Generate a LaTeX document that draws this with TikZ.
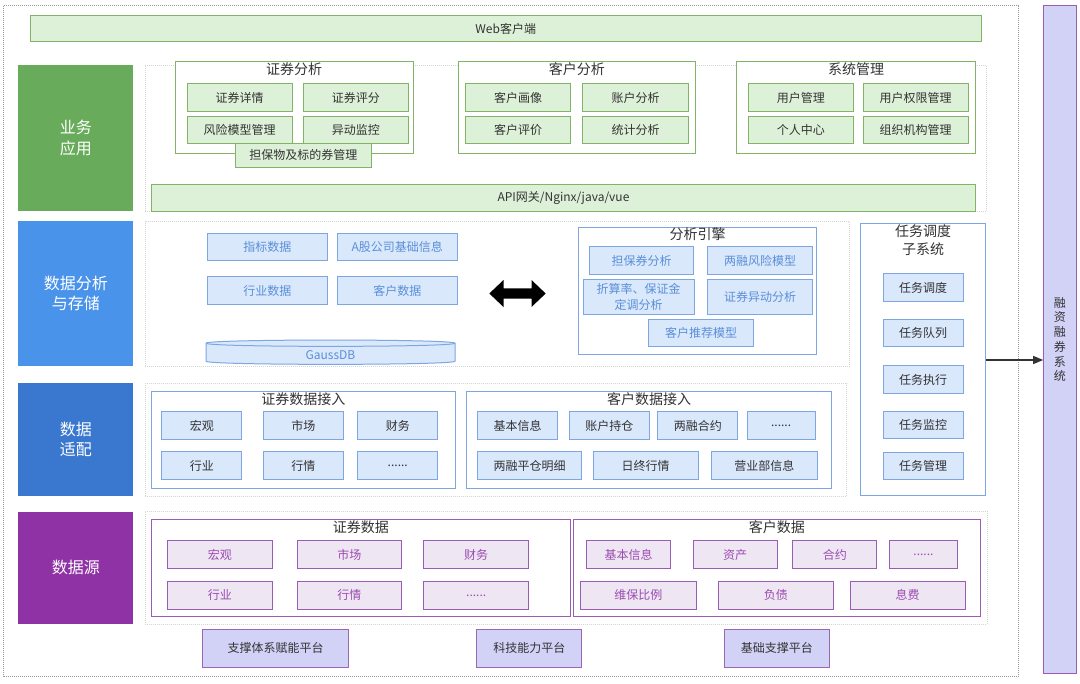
\documentclass[tikz,border=0pt]{standalone}
\usepackage{fontspec}
\setmainfont{Noto Sans CJK SC}
\usetikzlibrary{arrows.meta}
\definecolor{txt}{HTML}{333333}
\definecolor{gLayer}{HTML}{67AB5B}
\definecolor{gFill}{HTML}{DDF1D9}
\definecolor{gStroke}{HTML}{82B366}
\definecolor{bLayerA}{HTML}{4A93EA}
\definecolor{bLayerB}{HTML}{3A77CE}
\definecolor{bFill}{HTML}{DAE8FC}
\definecolor{bStroke}{HTML}{7EA6E0}
\definecolor{bText}{HTML}{5A8FD8}
\definecolor{pLayer}{HTML}{8F32A6}
\definecolor{pFill}{HTML}{EFE6F3}
\definecolor{pStroke}{HTML}{9B5CB4}
\definecolor{pText}{HTML}{9A4CB0}
\definecolor{lavFill}{HTML}{D2D2F7}
\definecolor{lavStroke}{HTML}{9B66B3}
\definecolor{zoneGray}{HTML}{D4D4D4}
\definecolor{outerGray}{HTML}{9A9A9A}
\newcommand{\mkbox}[6]{\node[#1, minimum width={#4-#2}, minimum height={#5-#3}] (#6) at ({(#2+#4)/2},{(#3+#5)/2})}
\begin{document}
\begin{tikzpicture}[x=1pt,y=-1pt,
  base/.style={rectangle, inner sep=1pt, align=center, line width=1pt, text=txt},
  layer/.style={base, text=white, font=\fontsize{16}{20.5}\selectfont},
  zone/.style={base, draw=zoneGray, line width=0.8pt, dash pattern=on 1pt off 1pt},
  outer/.style={base, draw=outerGray, line width=0.8pt, dash pattern=on 1pt off 1pt},
  grpG/.style={base, draw=gStroke, fill=white},
  grpB/.style={base, draw=bStroke, fill=white},
  grpP/.style={base, draw=pStroke, fill=white},
  gtitle/.style={anchor=north, inner sep=1pt, text=txt, font=\fontsize{14}{17.5}\selectfont, align=center},
  gbox/.style={base, draw=gStroke, fill=gFill, font=\fontsize{12}{15}\selectfont},
  bbox/.style={base, draw=bStroke, fill=bFill, text=bText, font=\fontsize{12}{15}\selectfont},
  tbox/.style={base, draw=bStroke, fill=bFill, font=\fontsize{12}{15}\selectfont},
  pbox/.style={base, draw=pStroke, fill=pFill, text=pText, font=\fontsize{12}{15}\selectfont},
  lbox/.style={base, draw=lavStroke, fill=lavFill, font=\fontsize{12}{15}\selectfont},
  conn/.style={draw=txt, line width=1.2pt, -{Triangle[length=10pt,width=8pt]}}
]
\useasboundingbox (0,0) rectangle (1080,684);
\fill[white] (0,0) rectangle (1080,684);

% outer frame
\mkbox{outer}{3.5}{5}{1018.5}{676.5}{frame} {};

% zones
\mkbox{zone}{145}{65}{986.6}{211}{z1} {};
\mkbox{zone}{145}{221}{849.3}{366.7}{z2} {};
\mkbox{zone}{145}{383.3}{846.6}{496.7}{z3} {};
\mkbox{zone}{145}{511}{987}{624}{z4} {};

% layers
\mkbox{layer, fill=gLayer}{18.3}{65}{133.3}{211}{L1} {业务\\应用};
\mkbox{layer, fill=bLayerA}{18.3}{220.7}{133.3}{366.3}{L2} {数据分析\\与存储};
\mkbox{layer, fill=bLayerB}{18.3}{383.3}{133.3}{495.7}{L3} {数据\\适配};
\mkbox{layer, fill=pLayer}{18.3}{511.7}{133.3}{624}{L4} {数据源};

% top bars
\mkbox{gbox}{30}{16}{981.4}{42}{web} {Web客户端};
\mkbox{gbox}{151.7}{184.3}{975.2}{211.7}{api} {API网关/Nginx/java/vue};

% business groups
\mkbox{grpG}{175.3}{61.7}{413}{153.7}{G1} {};
\node[gtitle] (G1t) at (G1.north) {证券分析};
\mkbox{gbox}{187.3}{84}{292}{111.7}{g11} {证券详情};
\mkbox{gbox}{303.4}{84}{408.4}{111.7}{g12} {证券评分};
\mkbox{gbox}{187.3}{116.3}{292}{144}{g13} {风险模型管理};
\mkbox{gbox}{303.4}{116.3}{408.4}{144}{g14} {异动监控};
\mkbox{gbox}{235.3}{143.3}{371.6}{167.3}{g15} {担保物及标的券管理};

\mkbox{grpG}{458}{61.7}{695.5}{153.7}{G2} {};
\node[gtitle] (G2t) at (G2.north) {客户分析};
\mkbox{gbox}{465.5}{84}{570.5}{111.7}{g21} {客户画像};
\mkbox{gbox}{582.8}{84}{688.3}{111.7}{g22} {账户分析};
\mkbox{gbox}{465.5}{116.3}{570.5}{144}{g23} {客户评价};
\mkbox{gbox}{582.8}{116.3}{688.3}{144}{g24} {统计分析};

\mkbox{grpG}{736.9}{61.7}{975.2}{153.7}{G3} {};
\node[gtitle] (G3t) at (G3.north) {系统管理};
\mkbox{gbox}{748.3}{84}{853.4}{111.7}{g31} {用户管理};
\mkbox{gbox}{863.1}{84}{968.3}{111.7}{g32} {用户权限管理};
\mkbox{gbox}{748.3}{116.3}{853.4}{144}{g33} {个人中心};
\mkbox{gbox}{863.1}{116.3}{968.3}{144}{g34} {组织机构管理};

% data analysis and storage
\mkbox{bbox}{207.3}{233.3}{327.3}{260.7}{d1} {指标数据};
\mkbox{bbox}{337.3}{233.3}{457.3}{260.7}{d2} {A股公司基础信息};
\mkbox{bbox}{207.3}{277}{327.3}{304.3}{d3} {行业数据};
\mkbox{bbox}{337.3}{277}{457.3}{304.3}{d4} {客户数据};

% GaussDB cylinder
\filldraw[fill=bFill, draw=bStroke, line width=1pt]
  (206,343.2) -- (206,361.2) .. controls (206,365.4) and (455,365.4) .. (455,361.2)
  -- (455,343.2) .. controls (455,339) and (206,339) .. (206,343.2) -- cycle;
\draw[bStroke, line width=1pt] (206,343.2) .. controls (206,347.4) and (455,347.4) .. (455,343.2);
\node[inner sep=0pt, text=bText, font=\fontsize{12}{15}\selectfont] (gdb) at (330.5,355.2) {GaussDB};

% double arrow
\fill[black] (489.3,293.5) -- (503.5,280) -- (503.5,288.3) -- (531.5,288.3) -- (531.5,280)
  -- (545.7,293.5) -- (531.5,307) -- (531.5,298.7) -- (503.5,298.7) -- (503.5,307) -- cycle;

% analysis engine
\mkbox{grpB}{578.7}{227.3}{816.7}{355}{AE} {};
\node[gtitle, inner sep=0.5pt] (AEt) at (AE.north) {分析引擎};
\mkbox{bbox}{589.3}{246.7}{693.7}{274.3}{a1} {担保券分析};
\mkbox{bbox}{707.7}{246.7}{812.3}{274.3}{a2} {两融风险模型};
\mkbox{bbox, font=\fontsize{12}{15.5}\selectfont}{583}{279.3}{694.3}{314.3}{a3} {折算率、保证金\\定调分析};
\mkbox{bbox}{707.7}{279.3}{812.3}{314.3}{a4} {证券异动分析};
\mkbox{bbox}{648.7}{319.3}{753.3}{346.7}{a5} {客户推荐模型};

% task scheduling subsystem
\mkbox{grpB}{860.3}{224}{985.7}{496}{TS} {};
\node[gtitle, font=\fontsize{14}{17.7}\selectfont] (TSt) at (TS.north) {任务调度\\子系统};
\mkbox{tbox}{883}{274}{963}{301.7}{t1} {任务调度};
\mkbox{tbox}{883}{319.3}{963}{346.7}{t2} {任务队列};
\mkbox{tbox}{883}{365.7}{963}{393.3}{t3} {任务执行};
\mkbox{tbox}{883}{411.7}{963}{439}{t4} {任务监控};
\mkbox{tbox}{883}{452.3}{963}{480}{t5} {任务管理};

% data adaptation
\mkbox{grpB}{151.5}{391.7}{455}{488.3}{SA} {};
\node[gtitle] (SAt) at (SA.north) {证券数据接入};
\mkbox{tbox}{161.9}{411.7}{241.7}{439.3}{s1} {宏观};
\mkbox{tbox}{263.4}{411.7}{343.3}{439.3}{s2} {市场};
\mkbox{tbox}{357.8}{411.7}{437.7}{439.3}{s3} {财务};
\mkbox{tbox}{161.9}{452}{241.7}{479.7}{s4} {行业};
\mkbox{tbox}{263.4}{452}{343.3}{479.7}{s5} {行情};
\mkbox{tbox}{357.8}{452}{437.7}{479.7}{s6} {......};

\mkbox{grpB}{466.7}{391.7}{831.5}{488.3}{CA} {};
\node[gtitle] (CAt) at (CA.north) {客户数据接入};
\mkbox{tbox}{477.8}{411.7}{557.6}{439.3}{c1} {基本信息};
\mkbox{tbox}{569.5}{411.7}{649.3}{439.3}{c2} {账户持仓};
\mkbox{tbox}{657.6}{411.7}{737.9}{439.3}{c3} {两融合约};
\mkbox{tbox}{747}{411.7}{815.3}{439.3}{c4} {......};
\mkbox{tbox}{477.4}{452}{581.7}{479.7}{c5} {两融平仓明细};
\mkbox{tbox}{593.2}{452}{698}{479.7}{c6} {日终行情};
\mkbox{tbox}{711.8}{452}{817}{479.7}{c7} {营业部信息};

% data sources
\mkbox{grpP}{151.7}{520}{570}{616.7}{SD} {};
\node[gtitle] (SDt) at (SD.north) {证券数据};
\mkbox{pbox}{167.6}{541}{272}{568.3}{p1} {宏观};
\mkbox{pbox}{297.2}{541}{401.7}{568.3}{p2} {市场};
\mkbox{pbox}{423.8}{541}{528.6}{568.3}{p3} {财务};
\mkbox{pbox}{167.6}{581.7}{272}{609}{p4} {行业};
\mkbox{pbox}{297.2}{581.7}{401.7}{609}{p5} {行情};
\mkbox{pbox}{423.8}{581.7}{528.6}{609}{p6} {......};

\mkbox{grpP}{573}{520}{980.7}{616.7}{CD} {};
\node[gtitle] (CDt) at (CD.north) {客户数据};
\mkbox{pbox}{586.9}{541}{670.3}{568.3}{q1} {基本信息};
\mkbox{pbox}{693}{541}{777}{568.3}{q2} {资产};
\mkbox{pbox}{792.8}{541}{876.9}{568.3}{q3} {合约};
\mkbox{pbox}{889.3}{541}{957.6}{568.3}{q4} {......};
\mkbox{pbox}{580.7}{581.7}{696.2}{609}{q5} {维保比例};
\mkbox{pbox}{718.3}{581.7}{833.4}{609}{q6} {负债};
\mkbox{pbox}{850}{581.7}{965.2}{609}{q7} {息费};

% bottom platforms
\mkbox{lbox}{202.4}{629.3}{348.6}{667.3}{b1} {支撑体系赋能平台};
\mkbox{lbox}{476.9}{629.3}{581.7}{667.3}{b2} {科技能力平台};
\mkbox{lbox}{724.5}{629.3}{829}{667.3}{b3} {基础支撑平台};

% right system
\mkbox{lbox, draw=pStroke, font=\fontsize{12}{14.7}\selectfont}{1043.7}{5.7}{1076}{673.3}{rz} {融\\资\\融\\券\\系\\统};

% connector
\draw[conn] (TS.east) -- (TS.east -| rz.west);
\end{tikzpicture}
\end{document}
